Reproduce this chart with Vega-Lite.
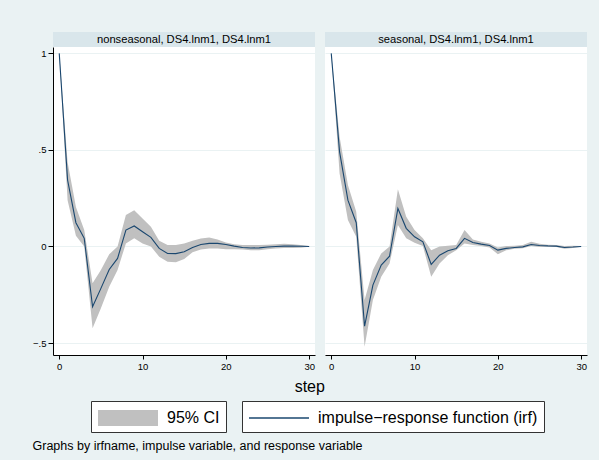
{
  "$schema": "https://vega.github.io/schema/vega-lite/v6.json",
  "background": "#eaf2f3",
  "padding": {"left": 32, "top": 32, "right": 13, "bottom": 8},
  "datasets": {
    "irf": [
      {"panel": "nonseasonal", "step": 0, "irf": 1, "lo": 1, "hi": 1},
      {"panel": "nonseasonal", "step": 1, "irf": 0.344, "lo": 0.24, "hi": 0.438},
      {"panel": "nonseasonal", "step": 2, "irf": 0.123, "lo": 0.055, "hi": 0.205},
      {"panel": "nonseasonal", "step": 3, "irf": 0.042, "lo": 0.0, "hi": 0.085},
      {"panel": "nonseasonal", "step": 4, "irf": -0.312, "lo": -0.424, "hi": -0.19},
      {"panel": "nonseasonal", "step": 5, "irf": -0.217, "lo": -0.32, "hi": -0.122},
      {"panel": "nonseasonal", "step": 6, "irf": -0.119, "lo": -0.208, "hi": -0.04},
      {"panel": "nonseasonal", "step": 7, "irf": -0.062, "lo": -0.122, "hi": 0.0},
      {"panel": "nonseasonal", "step": 8, "irf": 0.085, "lo": 0.016, "hi": 0.163},
      {"panel": "nonseasonal", "step": 9, "irf": 0.106, "lo": 0.042, "hi": 0.188},
      {"panel": "nonseasonal", "step": 10, "irf": 0.076, "lo": 0.016, "hi": 0.145},
      {"panel": "nonseasonal", "step": 11, "irf": 0.047, "lo": 0.0, "hi": 0.102},
      {"panel": "nonseasonal", "step": 12, "irf": -0.01, "lo": -0.053, "hi": 0.03},
      {"panel": "nonseasonal", "step": 13, "irf": -0.036, "lo": -0.079, "hi": 0.007},
      {"panel": "nonseasonal", "step": 14, "irf": -0.037, "lo": -0.082, "hi": 0.007},
      {"panel": "nonseasonal", "step": 15, "irf": -0.027, "lo": -0.065, "hi": 0.016},
      {"panel": "nonseasonal", "step": 16, "irf": -0.005, "lo": -0.03, "hi": 0.03},
      {"panel": "nonseasonal", "step": 17, "irf": 0.01, "lo": -0.016, "hi": 0.041},
      {"panel": "nonseasonal", "step": 18, "irf": 0.016, "lo": -0.01, "hi": 0.046},
      {"panel": "nonseasonal", "step": 19, "irf": 0.016, "lo": -0.01, "hi": 0.036},
      {"panel": "nonseasonal", "step": 20, "irf": 0.01, "lo": -0.015, "hi": 0.02},
      {"panel": "nonseasonal", "step": 21, "irf": 0.002, "lo": -0.015, "hi": 0.012},
      {"panel": "nonseasonal", "step": 22, "irf": -0.005, "lo": -0.016, "hi": 0.007},
      {"panel": "nonseasonal", "step": 23, "irf": -0.008, "lo": -0.02, "hi": 0.007},
      {"panel": "nonseasonal", "step": 24, "irf": -0.007, "lo": -0.02, "hi": 0.007},
      {"panel": "nonseasonal", "step": 25, "irf": -0.003, "lo": -0.015, "hi": 0.009},
      {"panel": "nonseasonal", "step": 26, "irf": 0.0, "lo": -0.01, "hi": 0.012},
      {"panel": "nonseasonal", "step": 27, "irf": 0.002, "lo": -0.008, "hi": 0.014},
      {"panel": "nonseasonal", "step": 28, "irf": 0.002, "lo": -0.008, "hi": 0.012},
      {"panel": "nonseasonal", "step": 29, "irf": 0.001, "lo": -0.006, "hi": 0.007},
      {"panel": "nonseasonal", "step": 30, "irf": 0.0, "lo": -0.002, "hi": 0.002},
      {"panel": "seasonal", "step": 0, "irf": 1, "lo": 1, "hi": 1},
      {"panel": "seasonal", "step": 1, "irf": 0.49, "lo": 0.378, "hi": 0.568},
      {"panel": "seasonal", "step": 2, "irf": 0.24, "lo": 0.137, "hi": 0.318},
      {"panel": "seasonal", "step": 3, "irf": 0.123, "lo": 0.05, "hi": 0.18},
      {"panel": "seasonal", "step": 4, "irf": -0.413, "lo": -0.519, "hi": -0.277},
      {"panel": "seasonal", "step": 5, "irf": -0.2, "lo": -0.277, "hi": -0.122},
      {"panel": "seasonal", "step": 6, "irf": -0.096, "lo": -0.157, "hi": -0.036},
      {"panel": "seasonal", "step": 7, "irf": -0.05, "lo": -0.088, "hi": 0.0},
      {"panel": "seasonal", "step": 8, "irf": 0.197, "lo": 0.111, "hi": 0.296},
      {"panel": "seasonal", "step": 9, "irf": 0.094, "lo": 0.042, "hi": 0.154},
      {"panel": "seasonal", "step": 10, "irf": 0.05, "lo": 0.019, "hi": 0.085},
      {"panel": "seasonal", "step": 11, "irf": 0.024, "lo": 0.002, "hi": 0.042},
      {"panel": "seasonal", "step": 12, "irf": -0.093, "lo": -0.157, "hi": -0.019},
      {"panel": "seasonal", "step": 13, "irf": -0.045, "lo": -0.088, "hi": 0.0},
      {"panel": "seasonal", "step": 14, "irf": -0.022, "lo": -0.045, "hi": 0.004},
      {"panel": "seasonal", "step": 15, "irf": -0.01, "lo": -0.02, "hi": 0.007},
      {"panel": "seasonal", "step": 16, "irf": 0.042, "lo": 0.016, "hi": 0.085},
      {"panel": "seasonal", "step": 17, "irf": 0.021, "lo": 0.007, "hi": 0.036},
      {"panel": "seasonal", "step": 18, "irf": 0.012, "lo": 0.002, "hi": 0.024},
      {"panel": "seasonal", "step": 19, "irf": 0.005, "lo": -0.005, "hi": 0.016},
      {"panel": "seasonal", "step": 20, "irf": -0.019, "lo": -0.04, "hi": -0.005},
      {"panel": "seasonal", "step": 21, "irf": -0.01, "lo": -0.02, "hi": 0.002},
      {"panel": "seasonal", "step": 22, "irf": -0.005, "lo": -0.012, "hi": 0.004},
      {"panel": "seasonal", "step": 23, "irf": -0.002, "lo": -0.009, "hi": 0.007},
      {"panel": "seasonal", "step": 24, "irf": 0.01, "lo": 0.002, "hi": 0.024},
      {"panel": "seasonal", "step": 25, "irf": 0.005, "lo": -0.003, "hi": 0.014},
      {"panel": "seasonal", "step": 26, "irf": 0.003, "lo": -0.002, "hi": 0.009},
      {"panel": "seasonal", "step": 27, "irf": 0.002, "lo": -0.003, "hi": 0.007},
      {"panel": "seasonal", "step": 28, "irf": -0.005, "lo": -0.012, "hi": 0.002},
      {"panel": "seasonal", "step": 29, "irf": -0.003, "lo": -0.008, "hi": 0.004},
      {"panel": "seasonal", "step": 30, "irf": 0.0, "lo": -0.002, "hi": 0.002}
    ]
  },
  "title": {
    "text": "Graphs by irfname, impulse variable, and response variable",
    "orient": "bottom",
    "anchor": "start",
    "frame": "bounds",
    "fontSize": 12.5,
    "fontWeight": "normal",
    "color": "#000",
    "offset": 7
  },
  "resolve": {
    "scale": {"fill": "shared", "stroke": "shared"},
    "legend": {"fill": "shared", "stroke": "shared"}
  },
  "vconcat": [
    {
      "title": {
        "text": "step",
        "orient": "bottom",
        "anchor": "middle",
        "frame": "bounds",
        "fontSize": 16,
        "fontWeight": "normal",
        "color": "#000",
        "offset": 8
      },
      "columns": 2,
      "bounds": "flush",
      "spacing": {"row": 0, "column": 10},
      "resolve": {
        "scale": {"x": "independent", "y": "independent", "fill": "shared", "stroke": "shared"},
        "legend": {"fill": "shared", "stroke": "shared"}
      },
      "concat": [
        {
          "width": 262,
          "height": 15,
          "view": {"fill": "#d9e6eb", "stroke": null},
          "data": {"values": [{"label": "nonseasonal, DS4.lnm1, DS4.lnm1"}]},
          "mark": {"type": "text", "fontSize": 11.2, "color": "#000"},
          "encoding": {"text": {"field": "label"}}
        },
        {
          "width": 262,
          "height": 15,
          "view": {"fill": "#d9e6eb", "stroke": null},
          "data": {"values": [{"label": "seasonal, DS4.lnm1, DS4.lnm1"}]},
          "mark": {"type": "text", "fontSize": 11.2, "color": "#000"},
          "encoding": {"text": {"field": "label"}}
        },
        {
          "width": 262,
          "height": 308,
          "view": {"fill": "white", "stroke": null},
          "data": {"name": "irf"},
          "transform": [{"filter": "datum.panel === 'nonseasonal'"}],
          "encoding": {
            "x": {
              "field": "step",
              "type": "quantitative",
              "scale": {"domain": [-0.75, 30.7], "nice": false, "zero": false},
              "axis": {"values": [0, 10, 20, 30], "grid": false, "title": null, "tickSize": 4}
            }
          },
          "layer": [
            {
              "mark": {"type": "area", "opacity": 1},
              "encoding": {
                "y": {
                  "field": "lo",
                  "type": "quantitative",
                  "title": null,
                  "scale": {"domain": [-0.562, 1.033], "nice": false, "zero": false},
                  "axis": {
                    "values": [-0.5, 0, 0.5, 1],
                    "grid": true,
                    "labelExpr": "datum.value === 1 ? '1' : datum.value === 0.5 ? '.5' : datum.value === 0 ? '0' : '−.5'"
                  }
                },
                "y2": {"field": "hi"},
                "fill": {
                  "datum": "95% CI",
                  "type": "nominal",
                  "scale": {"domain": ["95% CI"], "range": ["#c0c0c0"]},
                  "legend": {"orient": "none", "legendX": 38, "legendY": 369, "symbolType": "M-1,-0.8H5V0.8H-1Z", "zindex": 1}
                }
              }
            },
            {
              "mark": {"type": "line", "strokeWidth": 1.1},
              "encoding": {
                "y": {"field": "irf", "type": "quantitative", "title": null},
                "stroke": {
                  "datum": "impulse−response function (irf)",
                  "type": "nominal",
                  "scale": {"domain": ["impulse−response function (irf)"], "range": ["#1a476f"]},
                  "legend": {"orient": "none", "legendX": 189, "legendY": 369, "symbolType": "M-1,0H5", "symbolStrokeWidth": 1.3}
                }
              }
            }
          ]
        },
        {
          "width": 262,
          "height": 308,
          "view": {"fill": "white", "stroke": null},
          "data": {"name": "irf"},
          "transform": [{"filter": "datum.panel === 'seasonal'"}],
          "encoding": {
            "x": {
              "field": "step",
              "type": "quantitative",
              "scale": {"domain": [-0.75, 30.7], "nice": false, "zero": false},
              "axis": {"values": [0, 10, 20, 30], "grid": false, "title": null, "tickSize": 4}
            }
          },
          "layer": [
            {
              "mark": {"type": "area", "opacity": 1},
              "encoding": {
                "y": {
                  "field": "lo",
                  "type": "quantitative",
                  "title": null,
                  "scale": {"domain": [-0.562, 1.033], "nice": false, "zero": false},
                  "axis": {
                    "values": [-0.5, 0, 0.5, 1],
                    "grid": true,
                    "labels": false,
                    "ticks": false,
                    "domain": false
                  }
                },
                "y2": {"field": "hi"},
                "fill": {
                  "datum": "95% CI",
                  "type": "nominal",
                  "legend": {"orient": "none", "legendX": 38, "legendY": 369, "symbolType": "M-1,-0.8H5V0.8H-1Z", "zindex": 1}
                }
              }
            },
            {
              "mark": {"type": "line", "strokeWidth": 1.1},
              "encoding": {
                "y": {"field": "irf", "type": "quantitative", "title": null},
                "stroke": {
                  "datum": "impulse−response function (irf)",
                  "type": "nominal",
                  "legend": {"orient": "none", "legendX": 189, "legendY": 369, "symbolType": "M-1,0H5", "symbolStrokeWidth": 1.3}
                }
              }
            }
          ]
        }
      ]
    }
  ],
  "config": {
    "font": "Liberation Sans",
    "view": {"stroke": null},
    "axis": {
      "domainColor": "#000",
      "tickColor": "#000",
      "labelColor": "#000",
      "labelFontSize": 9.5,
      "labelPadding": 2,
      "tickSize": 5,
      "gridColor": "#eaf2f3",
      "labelFlush": false
    },
    "legend": {
      "direction": "horizontal",
      "title": null,
      "strokeColor": "#333",
      "fillColor": "white",
      "padding": 6,
      "symbolSize": 400,
      "labelFontSize": 16,
      "labelColor": "#000",
      "labelOffset": 48,
      "labelLimit": 400
    }
  }
}
